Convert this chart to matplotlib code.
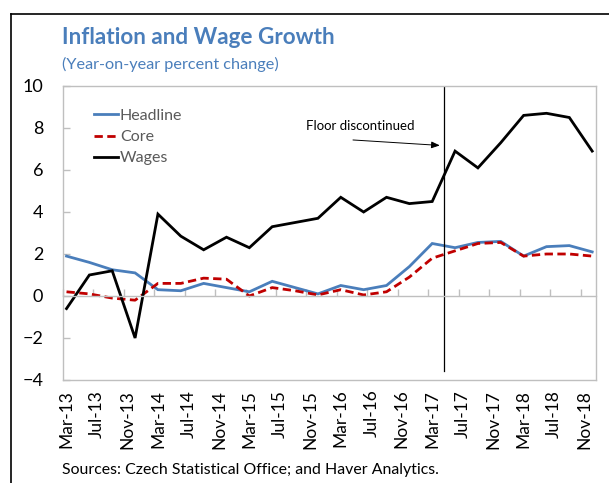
import matplotlib
matplotlib.use("Agg")
import matplotlib.pyplot as plt
from matplotlib.lines import Line2D
import numpy as np

# ---- data (quarterly, Mar-13 .. Dec-18) ----
quarters = ["Mar-13", "Jun-13", "Sep-13", "Dec-13", "Mar-14", "Jun-14", "Sep-14", "Dec-14",
            "Mar-15", "Jun-15", "Sep-15", "Dec-15", "Mar-16", "Jun-16", "Sep-16", "Dec-16",
            "Mar-17", "Jun-17", "Sep-17", "Dec-17", "Mar-18", "Jun-18", "Sep-18", "Dec-18"]
headline = [1.9, 1.6, 1.25, 1.1, 0.3, 0.25, 0.6, 0.4, 0.2, 0.7, 0.4, 0.1,
            0.5, 0.3, 0.5, 1.4, 2.5, 2.3, 2.55, 2.6, 1.9, 2.35, 2.4, 2.1]
core = [0.2, 0.1, -0.1, -0.2, 0.6, 0.6, 0.85, 0.8, 0.0, 0.4, 0.25, 0.05,
        0.3, 0.05, 0.2, 0.9, 1.8, 2.15, 2.5, 2.55, 1.9, 2.0, 2.0, 1.9]
wages = [-0.6, 1.0, 1.2, -2.0, 3.9, 2.85, 2.2, 2.8, 2.3, 3.3, 3.5, 3.7,
         4.7, 4.0, 4.7, 4.4, 4.5, 6.9, 6.1, 7.3, 8.6, 8.7, 8.5, 6.9]
tick_labels = ["Mar-13", "Jul-13", "Nov-13", "Mar-14", "Jul-14", "Nov-14", "Mar-15", "Jul-15",
               "Nov-15", "Mar-16", "Jul-16", "Nov-16", "Mar-17", "Jul-17", "Nov-17", "Mar-18",
               "Jul-18", "Nov-18"]
floor_month = "Apr-17"  # exchange-rate floor discontinued (April 2017)

# month index positions (months since Mar-13)
mnames = ["Jan", "Feb", "Mar", "Apr", "May", "Jun", "Jul", "Aug", "Sep", "Oct", "Nov", "Dec"]
def month_index(lbl):
    m, y = lbl.split("-")
    return (int(y) - 13) * 12 + mnames.index(m) - 2

xq = np.array([month_index(q) for q in quarters])
xt = np.array([month_index(t) for t in tick_labels])
x_floor = month_index(floor_month) + 0.5

FONT = "Lato"
plt.rcParams["font.family"] = [FONT, "DejaVu Sans"]

BLUE = "#4A7EBB"
RED = "#C00000"
GRAY = "#BFBFBF"

fig = plt.figure(figsize=(6.09, 4.83), dpi=100)
ax = fig.add_axes([62.7 / 609, 1 - 380 / 483, (596 - 62.7) / 609, (380 - 86) / 483])

ax.plot(xq, headline, color=BLUE, lw=2.0, label="Headline", solid_joinstyle="miter")
ax.plot(xq, core, color=RED, lw=2.0, ls=(0, (3, 1.6)), label="Core")
ax.plot(xq, wages, color="black", lw=2.0, label="Wages", solid_joinstyle="miter")

ax.set_xlim(-0.5, 69.5)
ax.set_ylim(-4, 10)
ax.set_yticks(np.arange(-4, 11, 2))

# frame
for s in ["top", "right", "left"]:
    ax.spines[s].set_color(GRAY)
    ax.spines[s].set_linewidth(1.0)
# bottom spine acts as zero axis with tick marks at month-group boundaries
ax.spines["bottom"].set_position(("data", 0))
ax.spines["bottom"].set_color(GRAY)
ax.spines["bottom"].set_linewidth(1.0)
ax.set_xticks(xt - 0.5)
ax.tick_params(axis="x", direction="in", length=5, width=1.0, color=GRAY, labelbottom=False)

ax.tick_params(axis="y", direction="in", length=5, width=1.0, color=GRAY, pad=14,
               labelsize=13, labelcolor="black")

# bottom frame line + labels via secondary axis
sec = ax.secondary_xaxis("bottom")
sec.spines["bottom"].set_color(GRAY)
sec.spines["bottom"].set_linewidth(1.0)
sec.set_xticks(xt)
sec.set_xticklabels(tick_labels, rotation=90, fontsize=12.5)
sec.tick_params(axis="x", length=0, pad=7)

# vertical line
ax.axvline(x_floor, ymin=0.03, ymax=1.0, color="black", lw=0.9)
ax.text(38.5, 8.1, "Floor discontinued", fontsize=9.5, ha="center", va="center")
ax.annotate("", xy=(49.0, 7.17), xytext=(37.6, 7.43), textcoords="data",
            arrowprops=dict(arrowstyle="-|>,head_length=0.5,head_width=0.2", lw=0.7,
                            color="black", shrinkA=0, shrinkB=0),
            annotation_clip=False)

leg = ax.legend(loc="upper left", bbox_to_anchor=(0.046, 0.945), frameon=False,
                fontsize=11.5, handlelength=1.55, handletextpad=0.1, labelspacing=0.45,
                borderaxespad=0)
for t in leg.get_texts():
    t.set_color("#595959")

# titles
fig.text(62 / 609, 1 - 38 / 483, "Inflation and Wage Growth", color=BLUE, fontsize=16.2,
         fontweight="bold", va="center", ha="left")
fig.text(62 / 609, 1 - 64 / 483, "(Year-on-year percent change)", color=BLUE, fontsize=11.7,
         va="center", ha="left")
fig.text(62 / 609, 1 - 470 / 483, "Sources: Czech Statistical Office; and Haver Analytics.",
         color="black", fontsize=11.4, va="center", ha="left")

# outer border
fig.add_artist(Line2D([11 / 609, 11 / 609], [0, 1 - 14 / 483], color="black", lw=1.2,
                      transform=fig.transFigure))
fig.add_artist(Line2D([11 / 609, 1], [1 - 14 / 483, 1 - 14 / 483], color="black", lw=1.2,
                      transform=fig.transFigure))

fig.savefig("out.png", dpi=100)
